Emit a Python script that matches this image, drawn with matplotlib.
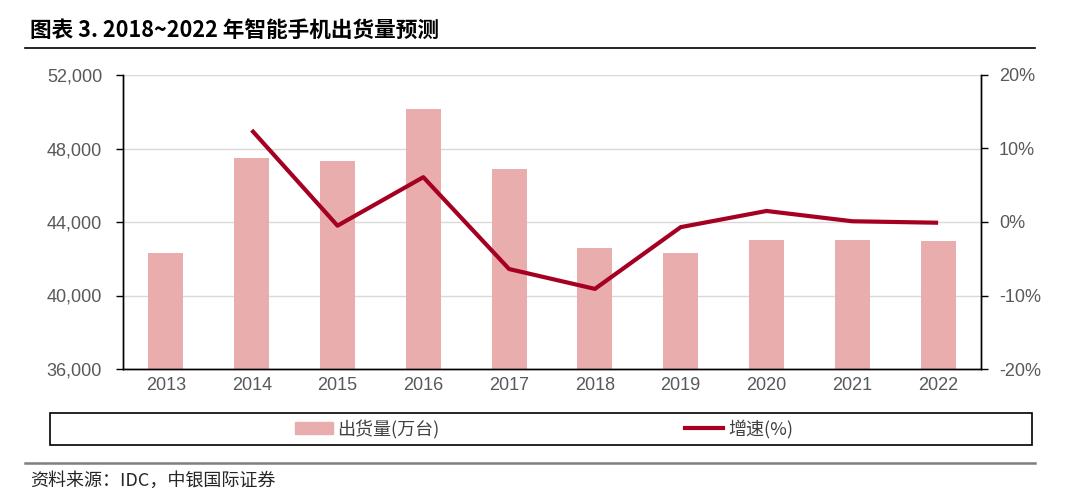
# 智能手机出货量预测 图表复刻
from matplotlib import pyplot as plt
from matplotlib.patches import Rectangle
from matplotlib.lines import Line2D
import matplotlib.ticker as mticker
import numpy as np

# 数据
years = ['2013', '2014', '2015', '2016', '2017', '2018', '2019', '2020', '2021', '2022']
shipments = [42300, 47500, 47300, 50150, 46900, 42600, 42300, 43000, 43000, 42950]
growth_years = years[1:]
growth = [12.5, -0.5, 6.1, -6.4, -9.1, -0.7, 1.5, 0.1, -0.1]

bar_color = '#E8ADAC'
line_color = '#A50021'
tick_color = '#595959'
num_font = ['Liberation Sans Narrow', 'Liberation Sans', 'DejaVu Sans']
cjk_font = ['Noto Sans CJK SC', 'DejaVu Sans']

fig = plt.figure(figsize=(10.8, 4.97), dpi=100)
ax = fig.add_axes([123/1080, 1 - 369/497, 858/1080, 294/497])

x = np.arange(len(years))
ax.bar(x, shipments, width=0.41, color=bar_color, zorder=2)
ax.set_ylim(36000, 52000)
ax.set_xlim(-0.5, len(years) - 0.5)
ax.set_yticks(np.arange(36000, 52001, 4000))
ax.yaxis.set_major_formatter(mticker.FuncFormatter(lambda v, p: f'{int(v):,}'))
ax.set_xticks(x)
ax.set_xticklabels(years)
ax.grid(axis='y', color='#D9D9D9', linewidth=1, zorder=0)
ax.set_axisbelow(True)

ax2 = ax.twinx()
gx = np.arange(1, len(years))
ax2.plot(gx, growth, color=line_color, linewidth=3, zorder=3, solid_capstyle='butt')
ax2.set_ylim(-20, 20)
ax2.set_yticks(np.arange(-20, 21, 10))
ax2.yaxis.set_major_formatter(mticker.FuncFormatter(lambda v, p: f'{int(v)}%'))

for a in (ax, ax2):
    a.spines['top'].set_visible(False)
    for s in ('left', 'right', 'bottom'):
        a.spines[s].set_color('black')
        a.spines[s].set_linewidth(1)
    a.tick_params(axis='y', length=5, width=1, color='black', labelcolor=tick_color,
                  labelsize=13, pad=4)
    for lab in a.get_yticklabels():
        lab.set_family(num_font)
ax.tick_params(axis='x', length=0, labelcolor=tick_color, labelsize=13, pad=6)
for lab in ax.get_xticklabels():
    lab.set_family(num_font)
ax.tick_params(axis='y', pad=10)
ax2.tick_params(axis='y', pad=8)

# 标题
fig.text(30/1080, 1 - 30/497, '图表 3. 2018~2022 年智能手机出货量预测', fontsize=15.6,
         fontweight='bold', family=cjk_font, va='center', ha='left')
fig.add_artist(Line2D([25/1080, 1035/1080], [1 - 48/497, 1 - 48/497], color='black', linewidth=1.2))

# 图例
fig.add_artist(Rectangle((50/1080, 1 - 445/497), 982/1080, 32/497, fill=False,
                         edgecolor='black', linewidth=1.2, transform=fig.transFigure))
handles = [Rectangle((0, 0), 1, 1, color=bar_color),
           Line2D([0], [0], color=line_color, linewidth=3)]
leg = fig.legend(handles, ['出货量(万台)', '增速(%)'], ncol=2, loc='center',
                 bbox_to_anchor=(544/1080, 1 - 429/497), frameon=False,
                 columnspacing=13.6, handlelength=2.1, handletextpad=0.25,
                 prop={'family': cjk_font, 'size': 13})
for t in leg.get_texts():
    t.set_color('#404040')

# 底部
fig.add_artist(Line2D([25/1080, 1035/1080], [1 - 463/497, 1 - 463/497], color='#7F7F7F', linewidth=1.8))
fig.text(30/1080, 1 - 481/497, '资料来源：IDC，中银国际证券', fontsize=13, family=cjk_font,
         va='center', ha='left', color='#262626')

fig.savefig('out.png', dpi=100)
